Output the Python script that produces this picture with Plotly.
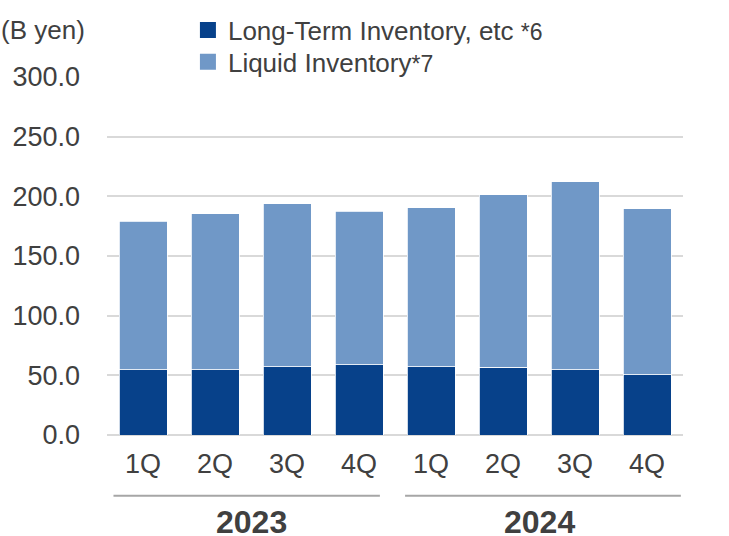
import plotly.graph_objects as go

quarters = ["1Q", "2Q", "3Q", "4Q", "1Q", "2Q", "3Q", "4Q"]
years = ["2023", "2024"]
long_term = [54.8, 54.8, 57.3, 59.0, 57.3, 56.8, 54.8, 50.6]
liquid = [124.4, 130.8, 136.6, 128.5, 133.0, 144.6, 157.4, 139.1]
y_ticks = [0, 50, 100, 150, 200, 250, 300]
names = ['Long-Term Inventory, etc <span style="font-size:23px">*6</span>',
         'Liquid Inventory<span style="font-size:23px">*7</span>']

x = list(range(len(quarters)))
DARK = "#07418A"
LIGHT = "#7098C7"
TEXT = "#404040"
FONT = "Liberation Sans, Arial, sans-serif"

fig = go.Figure()
for vals, col in [(long_term, DARK), (liquid, LIGHT)]:
    fig.add_trace(go.Bar(x=x, y=vals, showlegend=False,
                         marker=dict(color=col, line=dict(color="white", width=0.8))))
# legend entries (square markers), one legend per row
for nm, col, lg in zip(names, [DARK, LIGHT], ["legend", "legend2"]):
    fig.add_trace(go.Scatter(x=[None], y=[None], mode="markers", name=nm, legend=lg,
                             marker=dict(symbol="square", size=16, color=col)))

leg_common = dict(xanchor="left", yanchor="middle", font=dict(size=26, color=TEXT),
                  bgcolor="rgba(0,0,0,0)", itemwidth=30, itemsizing="trace")

fig.update_layout(
    width=729, height=536,
    margin=dict(l=107, r=46, t=77, b=101, autoexpand=False),
    barmode="stack", bargap=1/3,
    plot_bgcolor="white", paper_bgcolor="white",
    font=dict(family=FONT, color=TEXT, size=26),
    legend=dict(x=0.1405, y=1.131, **leg_common),
    legend2=dict(x=0.1405, y=1.042, **leg_common),
    xaxis=dict(tickmode="array", tickvals=x, ticktext=quarters, showgrid=False,
               showline=False, zeroline=False, range=[-0.5, len(x) - 0.5], automargin=False,
               tickfont=dict(size=27, color=TEXT), ticks="", ticklabelstandoff=10),
    yaxis=dict(range=[0, 300], tickvals=y_ticks, tickformat=".1f", showgrid=True, automargin=False,
               gridcolor="#D9D9D9", gridwidth=1.5, zeroline=True, zerolinecolor="#D9D9D9",
               zerolinewidth=1.5, tickfont=dict(size=27, color=TEXT), ticks="", ticklabelstandoff=26),
)

fig.add_annotation(text="(B yen)", xref="paper", yref="paper", x=-0.188, y=1.131,
                   xanchor="left", yanchor="middle", showarrow=False, font=dict(size=26, color=TEXT))

line_spans = [(-0.41, 3.29), (3.64, 7.47)]
for i, yr in enumerate(years):
    x0, x1 = line_spans[i]
    fig.add_shape(type="line", xref="x", yref="paper", x0=x0, x1=x1, y0=-0.17, y1=-0.17,
                  line=dict(color="#A6A6A6", width=2))
    fig.add_annotation(text="<b>" + yr + "</b>", xref="x", yref="paper", x=i * 4 + 1.5, y=-0.243,
                       showarrow=False, font=dict(size=32, color=TEXT), yanchor="middle")

fig.write_html("out.html", config={"displayModeBar": False},
               post_script="document.body.style.margin='0';")
